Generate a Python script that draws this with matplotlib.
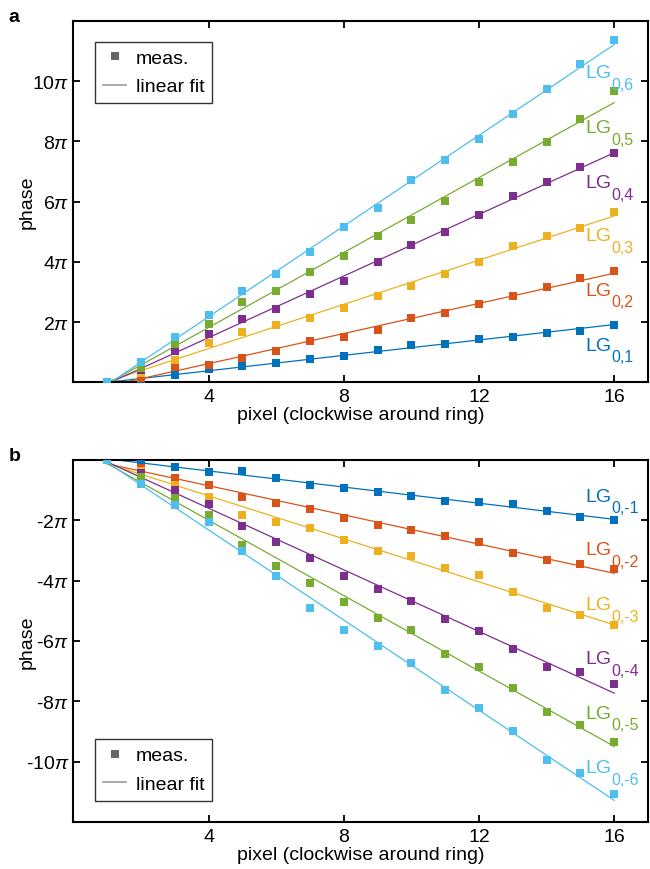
import matplotlib
matplotlib.use('Agg')
import matplotlib.pyplot as plt
from matplotlib.lines import Line2D
import numpy as np

plt.rcParams['font.family'] = ['Liberation Sans', 'DejaVu Sans']
plt.rcParams['mathtext.fontset'] = 'custom'
plt.rcParams['mathtext.rm'] = 'Liberation Sans'
plt.rcParams['mathtext.it'] = 'Liberation Sans:italic'
plt.rcParams['mathtext.bf'] = 'Liberation Sans:bold'

# pixel index around the ring
pixel = [1, 2, 3, 4, 5, 6, 7, 8, 9, 10, 11, 12, 13, 14, 15, 16]

# measured phase, in units of pi (panel a, positive charge)
phase_p1 = [0, 0.01, 0.26, 0.43, 0.53, 0.66, 0.79, 0.89, 1.06, 1.25, 1.26, 1.45, 1.51, 1.64, 1.72, 1.92]
phase_p2 = [0, 0.14, 0.52, 0.59, 0.81, 1.03, 1.36, 1.50, 1.75, 2.14, 2.30, 2.60, 2.88, 3.18, 3.46, 3.70]
phase_p3 = [0, 0.32, 0.76, 1.32, 1.66, 1.89, 2.15, 2.46, 2.88, 3.19, 3.60, 4.01, 4.52, 4.85, 5.13, 5.64]
phase_p4 = [0, 0.40, 1.05, 1.59, 2.09, 2.44, 2.92, 3.35, 4.01, 4.57, 5.00, 5.54, 6.18, 6.66, 7.16, 7.62]
phase_p5 = [0, 0.47, 1.28, 1.95, 2.68, 3.04, 3.66, 4.21, 4.87, 5.40, 6.01, 6.64, 7.31, 7.97, 8.74, 9.68]
phase_p6 = [0, 0.67, 1.50, 2.24, 3.02, 3.59, 4.34, 5.14, 5.80, 6.70, 7.39, 8.07, 8.89, 9.74, 10.57, 11.37]

# measured phase, in units of pi (panel b, negative charge)
phase_m1 = [0, -0.12, -0.23, -0.40, -0.36, -0.61, -0.84, -0.95, -1.08, -1.19, -1.36, -1.41, -1.46, -1.69, -1.89, -1.99]
phase_m2 = [0, -0.27, -0.60, -0.83, -1.23, -1.44, -1.64, -1.94, -2.17, -2.32, -2.52, -2.72, -3.09, -3.32, -3.46, -3.63]
phase_m3 = [0, -0.36, -0.83, -1.25, -1.83, -2.06, -2.26, -2.65, -3.02, -3.18, -3.60, -3.82, -4.38, -4.92, -5.14, -5.47]
phase_m4 = [0, -0.44, -0.99, -1.46, -2.19, -2.72, -3.24, -3.85, -4.29, -4.69, -5.28, -5.67, -6.28, -6.87, -7.03, -7.41]
phase_m5 = [0, -0.56, -1.26, -1.83, -2.81, -3.52, -4.09, -4.71, -5.25, -5.64, -6.42, -6.85, -7.56, -8.36, -8.77, -9.33]
phase_m6 = [0, -0.80, -1.49, -2.06, -3.02, -3.85, -4.92, -5.64, -6.17, -6.74, -7.63, -8.21, -8.97, -9.95, -10.37, -11.08]

labels_p = ['0,1', '0,2', '0,3', '0,4', '0,5', '0,6']
labels_m = ['0,-1', '0,-2', '0,-3', '0,-4', '0,-5', '0,-6']

# matlab default line colours
colors = ['#0072BD', '#D95319', '#EDB120', '#7E2F8E', '#77AC30', '#4DBEEE']

# where the LG labels sit (in units of pi)
label_y_p = [1.09, 2.91, 4.71, 6.48, 8.30, 10.13]
label_y_m = [-1.36, -3.13, -4.95, -6.74, -8.54, -10.35]


def draw_panel(ax, series, labels, label_y, sign):
    x = np.array(pixel)
    for vals, lab, col, ly in zip(series, labels, colors, label_y):
        y = np.array(vals) * np.pi
        #linear fit through the measured points
        k, b = np.polyfit(x, y, 1)
        ax.plot(x, k * x + b, '-', color=col, lw=0.9, zorder=2)
        ax.plot(x, y, 's', color=col, ms=5.6, mew=0, zorder=3)
        #"LG" and then a big, low subscript like the matlab tex one
        t = ax.text(15.15, ly * np.pi, 'LG', color=col, fontsize=14,
                    ha='left', va='baseline', zorder=4)
        ax.annotate(lab, xy=(1, 0), xycoords=t, xytext=(0, -5.5),
                    textcoords='offset points', color=col, fontsize=11.5,
                    ha='left', va='baseline', zorder=4)

    ax.set_xlim(0, 17)
    ax.set_xticks([4, 8, 12, 16])
    ticks = np.arange(2, 12, 2)
    if sign > 0:
        ax.set_ylim(0, 12 * np.pi)
        ax.set_yticks(ticks * np.pi)
        ax.set_yticklabels([r'%d$\pi$' % t for t in ticks])
    else:
        ax.set_ylim(-12 * np.pi, 0)
        ax.set_yticks(-ticks * np.pi)
        ax.set_yticklabels([r'-%d$\pi$' % t for t in ticks])

    ax.tick_params(direction='in', top=True, right=True, length=5, width=1.3,
                   labelsize=14, pad=4)
    ax.tick_params(axis='y', pad=3)
    for s in ax.spines.values():
        s.set_linewidth(1.5)
    ax.set_xlabel('pixel (clockwise around ring)', fontsize=14, labelpad=1)
    ax.set_ylabel('phase', fontsize=14)
    ax.yaxis.set_label_coords(-0.066, 0.5)

    #legend with grey proxies
    h1 = Line2D([], [], marker='s', color='#666666', ls='none', ms=5.6, mew=0)
    h2 = Line2D([], [], color='#999999', lw=1.2)
    if sign > 0:
        loc, anchor = 'upper left', (0.038, 0.942)
    else:
        loc, anchor = 'lower left', (0.038, 0.06)
    leg = ax.legend([h1, h2], ['meas.', 'linear fit'], loc=loc,
                    bbox_to_anchor=anchor, borderaxespad=0, fontsize=14,
                    labelspacing=0.55, borderpad=0.4, handlelength=1.2,
                    handletextpad=0.5, fancybox=False)
    leg.get_frame().set_edgecolor('black')
    leg.get_frame().set_linewidth(1.0)


fig = plt.figure(figsize=(6.5, 8.7), dpi=100)
ax_a = fig.add_axes([0.1128, 0.5593, 0.8842, 0.4157])
ax_b = fig.add_axes([0.1128, 0.0537, 0.8842, 0.4168])

draw_panel(ax_a, [phase_p1, phase_p2, phase_p3, phase_p4, phase_p5, phase_p6],
           labels_p, label_y_p, 1)
draw_panel(ax_b, [phase_m1, phase_m2, phase_m3, phase_m4, phase_m5, phase_m6],
           labels_m, label_y_m, -1)

fig.text(0.0135, 1 - 22.3 / 870, 'a', fontsize=14, fontweight='bold', va='baseline')
fig.text(0.0135, 1 - 460.7 / 870, 'b', fontsize=14, fontweight='bold', va='baseline')

fig.savefig('out.png', dpi=100)
